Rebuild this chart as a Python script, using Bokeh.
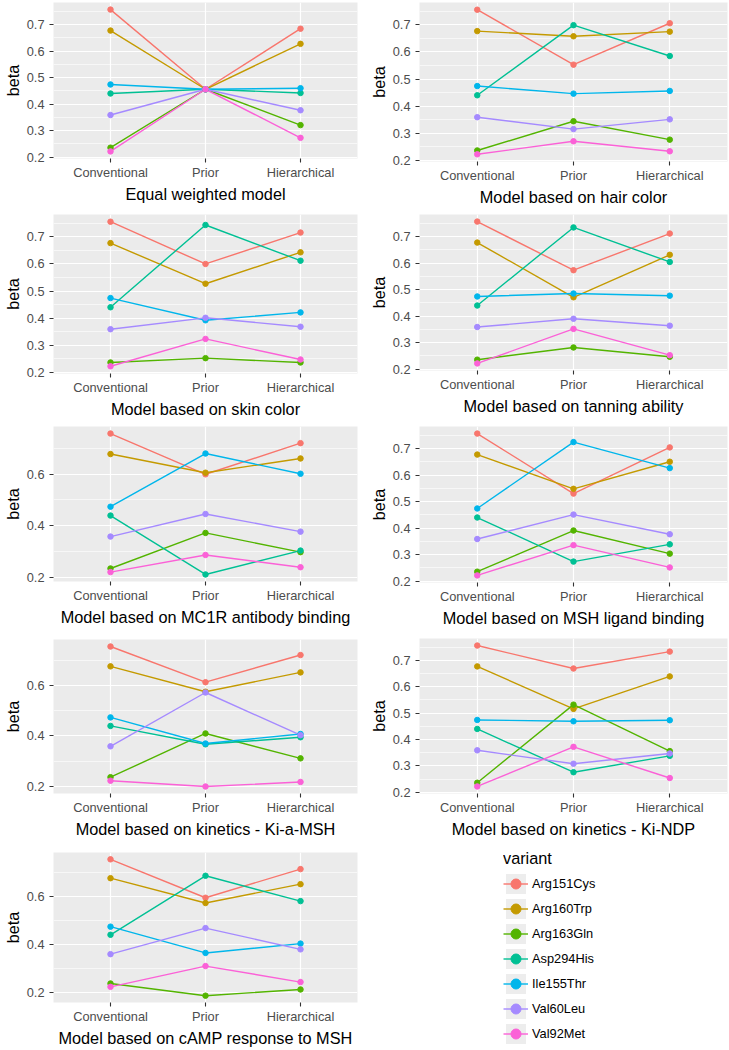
import numpy as np
from bokeh.plotting import figure
from bokeh.layouts import column, row
from bokeh.models import (FactorRange, Range1d, FixedTicker, NumeralTickFormatter,
                          Legend, LegendItem)
from bokeh.embed import file_html
from bokeh.resources import INLINE

# ---------------- data ----------------
methods = ["Conventional", "Prior", "Hierarchical"]
variants = ["Arg151Cys", "Arg160Trp", "Arg163Gln", "Asp294His",
            "Ile155Thr", "Val60Leu", "Val92Met"]
colors = ["#F8766D", "#C49A00", "#53B400", "#00C094",
          "#00B6EB", "#A58AFF", "#FB61D7"]

conventional = [0.756, 0.677, 0.236, 0.440, 0.474, 0.359, 0.222]

titles = ["Equal weighted model",
          "Model based on hair color",
          "Model based on skin color",
          "Model based on tanning ability",
          "Model based on MC1R antibody binding",
          "Model based on MSH ligand binding",
          "Model based on kinetics - Ki-a-MSH",
          "Model based on kinetics - Ki-NDP",
          "Model based on cAMP response to MSH"]

prior_equal = [0.456, 0.456, 0.456, 0.456, 0.456, 0.456, 0.456]
hier_equal = [0.684, 0.627, 0.321, 0.442, 0.460, 0.377, 0.273]

prior_hair = [0.553, 0.658, 0.344, 0.699, 0.446, 0.315, 0.270]
hier_hair = [0.706, 0.675, 0.276, 0.585, 0.456, 0.351, 0.233]

prior_skin = [0.600, 0.527, 0.252, 0.744, 0.392, 0.401, 0.323]
hier_skin = [0.716, 0.643, 0.236, 0.612, 0.421, 0.368, 0.247]

prior_tan = [0.573, 0.471, 0.282, 0.734, 0.485, 0.390, 0.352]
hier_tan = [0.711, 0.631, 0.247, 0.604, 0.477, 0.364, 0.253]

prior_mc1r = [0.599, 0.605, 0.373, 0.213, 0.679, 0.446, 0.288]
hier_mc1r = [0.719, 0.660, 0.299, 0.305, 0.601, 0.378, 0.241]

prior_msh = [0.530, 0.548, 0.391, 0.274, 0.724, 0.451, 0.336]
hier_msh = [0.704, 0.650, 0.304, 0.339, 0.626, 0.377, 0.252]

prior_kiamsh = [0.614, 0.576, 0.410, 0.367, 0.370, 0.573, 0.199]
hier_kiamsh = [0.722, 0.653, 0.311, 0.395, 0.408, 0.403, 0.217]

prior_kindp = [0.669, 0.516, 0.532, 0.276, 0.469, 0.308, 0.372]
hier_kindp = [0.733, 0.639, 0.356, 0.338, 0.473, 0.347, 0.254]

prior_camp = [0.595, 0.573, 0.185, 0.687, 0.364, 0.468, 0.309]
hier_camp = [0.715, 0.652, 0.211, 0.581, 0.403, 0.379, 0.242]

priors = [prior_equal, prior_hair, prior_skin, prior_tan, prior_mc1r,
          prior_msh, prior_kiamsh, prior_kindp, prior_camp]
hiers = [hier_equal, hier_hair, hier_skin, hier_tan, hier_mc1r,
         hier_msh, hier_kiamsh, hier_kindp, hier_camp]
tick_steps = [0.1, 0.1, 0.1, 0.1, 0.2, 0.1, 0.2, 0.1, 0.2]

# ---------------- layout / style ----------------
FONT = "Liberation Sans"
CELL_W = 364
ROW_H = [210, 210, 210, 210, 209]
PANEL_TOP = [2, 2, 4, 4, 6, 6, 9, 8, 12]
PANEL_FH = [156, 159, 160, 156, 155, 156, 159, 160, 155]
PANEL_BG = "#EBEBEB"


def style_axis(ax):
    ax.axis_line_color = None
    ax.major_tick_out = 4
    ax.major_tick_in = 0
    ax.minor_tick_out = 0
    ax.minor_tick_in = 0
    ax.major_tick_line_color = "#333333"
    ax.major_tick_line_width = 1.1
    ax.major_label_text_font = FONT
    ax.major_label_text_font_size = "12.8px"
    ax.major_label_text_color = "#4D4D4D"
    ax.axis_label_text_font = FONT
    ax.axis_label_text_font_size = "16.3px"
    ax.axis_label_text_font_style = "normal"
    ax.axis_label_text_color = "black"


def make_panel(k):
    r, col = divmod(k, 2)
    prior = priors[k]
    hier = hiers[k]
    vals = conventional + prior + hier
    lo, hi = min(vals), max(vals)
    pad = 0.05 * (hi - lo)
    ylo, yhi = lo - pad, hi + pad
    tb = PANEL_TOP[k]
    p = figure(width=CELL_W, height=ROW_H[r],
               x_range=FactorRange(factors=methods, range_padding=0.2 / 3,
                                   range_padding_units="percent"),
               y_range=Range1d(ylo, yhi),
               output_backend="svg", toolbar_location=None,
               frame_align=False,
               min_border_left=48 if col == 0 else 55,
               min_border_right=7 if col == 0 else 1,
               min_border_top=tb,
               min_border_bottom=ROW_H[r] - tb - PANEL_FH[k])
    p.background_fill_color = PANEL_BG
    p.border_fill_color = "white"
    p.outline_line_color = None

    step = tick_steps[k]
    cand = np.round(np.arange(0.0, 1.0001, step / 2), 3)
    majors = [float(c) for i, c in enumerate(cand) if i % 2 == 0 and ylo <= c <= yhi]
    minors = [float(c) for i, c in enumerate(cand) if i % 2 == 1 and ylo <= c <= yhi]
    ticker = FixedTicker(ticks=majors, minor_ticks=minors)
    p.yaxis.ticker = ticker
    p.ygrid.ticker = ticker
    p.yaxis.formatter = NumeralTickFormatter(format="0.0")

    p.xgrid.grid_line_color = "white"
    p.xgrid.grid_line_width = 1.2
    p.ygrid.grid_line_color = "white"
    p.ygrid.grid_line_width = 1.2
    p.ygrid.minor_grid_line_color = "white"
    p.ygrid.minor_grid_line_width = 0.6

    style_axis(p.xaxis[0])
    style_axis(p.yaxis[0])
    p.yaxis.axis_label = "beta"
    p.yaxis.major_label_standoff = 5
    p.yaxis.axis_label_standoff = 2
    p.xaxis.axis_label = titles[k]
    p.xaxis.major_label_standoff = 2
    p.xaxis.axis_label_standoff = 2

    for i in range(len(variants)):
        p.line(x=methods, y=[conventional[i], prior[i], hier[i]],
               line_color=colors[i], line_width=1.4)
    for i in range(len(variants)):
        p.scatter(x=methods, y=[conventional[i], prior[i], hier[i]],
                  size=5.5, fill_color=colors[i], line_color=colors[i])
    return p


panels = [make_panel(k) for k in range(9)]

# ---------------- legend panel ----------------
leg = figure(width=CELL_W, height=ROW_H[4], x_range=Range1d(0, 1), y_range=Range1d(0, 1),
             output_backend="svg", toolbar_location=None,
             x_axis_type=None, y_axis_type=None, frame_align=False,
             min_border_left=139, min_border_top=9,
             min_border_right=0, min_border_bottom=0)
leg.outline_line_color = None
leg.background_fill_color = "white"
leg.border_fill_color = "white"
items = []
for v, c in zip(variants, colors):
    rb = leg.rect(x=[np.nan], y=[np.nan], width=1, height=1,
                  fill_color="#EDEDED", line_color=None)
    rl = leg.line(x=[np.nan], y=[np.nan], line_color=c, line_width=1.4)
    rp = leg.scatter(x=[np.nan], y=[np.nan], size=6, fill_color=c, line_color=c)
    items.append(LegendItem(label=v, renderers=[rb, rl, rp]))
legend = Legend(items=items, location="top_left", title="variant",
                title_text_font=FONT, title_text_font_size="16.3px",
                title_text_font_style="normal", title_text_color="black",
                title_standoff=3,
                label_text_font=FONT, label_text_font_size="12.8px",
                label_text_color="black", label_standoff=4, label_height=25,
                glyph_width=25, glyph_height=25, spacing=0, padding=0, margin=0,
                border_line_color=None, background_fill_alpha=0)
leg.add_layout(legend)

layout = column(row(panels[0], panels[1]),
                row(panels[2], panels[3]),
                row(panels[4], panels[5]),
                row(panels[6], panels[7]),
                row(panels[8], leg))

open("out.html", "w").write(file_html(layout, INLINE))
